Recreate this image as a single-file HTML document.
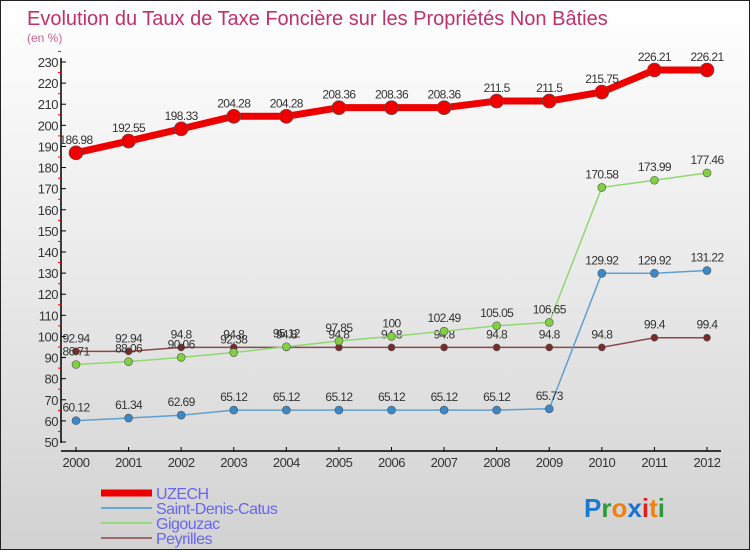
<!DOCTYPE html>
<html><head><meta charset="utf-8"><style>
body{margin:0;width:750px;height:550px;overflow:hidden;font-family:"Liberation Sans",sans-serif}
#wrap{position:relative;width:748px;height:548px;border:1px solid #222;background:linear-gradient(#fff 0%,#eee 40%,#d2d2d2 100%)}
</style></head><body>
<div id="wrap">
<svg id="chart" width="748" height="548" xmlns="http://www.w3.org/2000/svg"></svg>
</div>
<script>
const years=["2000","2001","2002","2003","2004","2005","2006","2007","2008","2009","2010","2011","2012"];
const uzech=[186.98,192.55,198.33,204.28,204.28,208.36,208.36,208.36,211.5,211.5,215.75,226.21,226.21];
const stDenis=[60.12,61.34,62.69,65.12,65.12,65.12,65.12,65.12,65.12,65.73,129.92,129.92,131.22];
const gigouzac=[86.71,88.06,90.06,92.38,95.12,97.85,100,102.49,105.05,106.65,170.58,173.99,177.46];
const peyrilles=[92.94,92.94,94.8,94.8,94.8,94.8,94.8,94.8,94.8,94.8,94.8,99.4,99.4];
const yTicks=[50,60,70,80,90,100,110,120,130,140,150,160,170,180,190,200,210,220,230];
const labels={uzech:["186.98","192.55","198.33","204.28","204.28","208.36","208.36","208.36","211.5","211.5","215.75","226.21","226.21"],
stDenis:["60.12","61.34","62.69","65.12","65.12","65.12","65.12","65.12","65.12","65.73","129.92","129.92","131.22"],
gigouzac:["86.71","88.06","90.06","92.38","95.12","97.85","100","102.49","105.05","106.65","170.58","173.99","177.46"],
peyrilles:["92.94","92.94","94.8","94.8","94.8","94.8","94.8","94.8","94.8","94.8","94.8","99.4","99.4"]};

const svg=document.getElementById('chart');
const NS="http://www.w3.org/2000/svg";
const x=i=>75+i*(631/12);
const y=v=>441-(v-50)*(380/180);
function mk(tag,attrs,parent){const e=document.createElementNS(NS,tag);for(const k in attrs)e.setAttribute(k,attrs[k]);(parent||svg).appendChild(e);return e;}
function txt(s,attrs){const t=mk('text',attrs);t.textContent=s;return t;}

let t=txt("Evolution du Taux de Taxe Foncière sur les Propriétés Non Bâties",{x:26,y:24,'font-size':20,fill:'#c0306a'});


t=txt("(en %)",{x:26,y:41,'font-size':12,fill:'#d06090'});



// y axis
let ax=mk('line',{x1:60,y1:57,x2:60,y2:442,stroke:'#000','stroke-width':1.5});


yTicks.forEach(v=>{
  mk('line',{x1:60,y1:y(v),x2:65,y2:y(v),stroke:'#000'});
  mk('line',{x1:57,y1:y(v+5),x2:60,y2:y(v+5),stroke:'#e00'});
  const l=txt(String(v),{x:57,y:y(v)+5,'text-anchor':'end','font-size':13,fill:'#333','letter-spacing':'-0.5'});
  
  
});
// x axis
ax=mk('line',{x1:60,y1:450,x2:720,y2:450,stroke:'#000','stroke-width':1.5});


years.forEach((yr,i)=>{
  mk('line',{x1:x(i),y1:446,x2:x(i),y2:450,stroke:'#000'});
  const l=txt(yr,{x:x(i),y:466,'text-anchor':'middle','font-size':13,fill:'#333','letter-spacing':'-0.5'});
  
  
});

function series(vals,labs,color,w,r,name,fill){
  const g=mk('g',{});
  
  
  mk('polyline',{points:vals.map((v,i)=>x(i)+','+y(v)).join(' '),fill:'none',stroke:color,'stroke-width':w,'stroke-linejoin':'round'},g);
  vals.forEach((v,i)=>{
    const c=mk('circle',{cx:x(i),cy:y(v),r:r,fill:fill,stroke:'#555','stroke-width':0.6},g);
    
    
    const l=txt(labs[i],{x:x(i),y:y(v)-9,'text-anchor':'middle','font-size':12,fill:'#333','letter-spacing':'-0.6'});
    
    
  });
}
series(peyrilles,labels.peyrilles,'#8b4a4a',1.5,3.5,'peyrilles','#7a2a2a');
series(stDenis,labels.stDenis,'#5fa0d0',1.5,4,'saint-denis-catus','#3a88c8');
series(gigouzac,labels.gigouzac,'#90d870',1.5,4,'gigouzac','#80d040');
series(uzech,labels.uzech,'#ee0000',7,7,'uzech','#ee0000');

// legend
const leg=[["UZECH","#ee0000",7],["Saint-Denis-Catus","#6aa8d4",2],["Gigouzac","#98d880",2],["Peyrilles","#9a6a6a",2]];
leg.forEach((d,i)=>{
  const g=mk('g',{});
  
  
  const yy=492+i*15;
  mk('line',{x1:100,y1:yy,x2:151,y2:yy,stroke:d[1],'stroke-width':d[2]},g);
  const l=txt(d[0],{x:155,y:yy+6,'font-size':16,fill:'#6666ee','letter-spacing':'-0.5'});
  g.appendChild(l);
});
// logo
const lg=mk('text',{x:583,y:516,'font-size':26,'font-weight':'bold'});


[["P","#1a7ad0"],["r","#2a9a3a"],["o","#f08010"],["x","#1a70d0"],["i","#e02020"],["t","#f08010"],["i","#2a9a3a"]].forEach(p=>{const s=document.createElementNS(NS,'tspan');s.setAttribute('fill',p[1]);s.textContent=p[0];lg.appendChild(s);});
</script>
</body></html>
